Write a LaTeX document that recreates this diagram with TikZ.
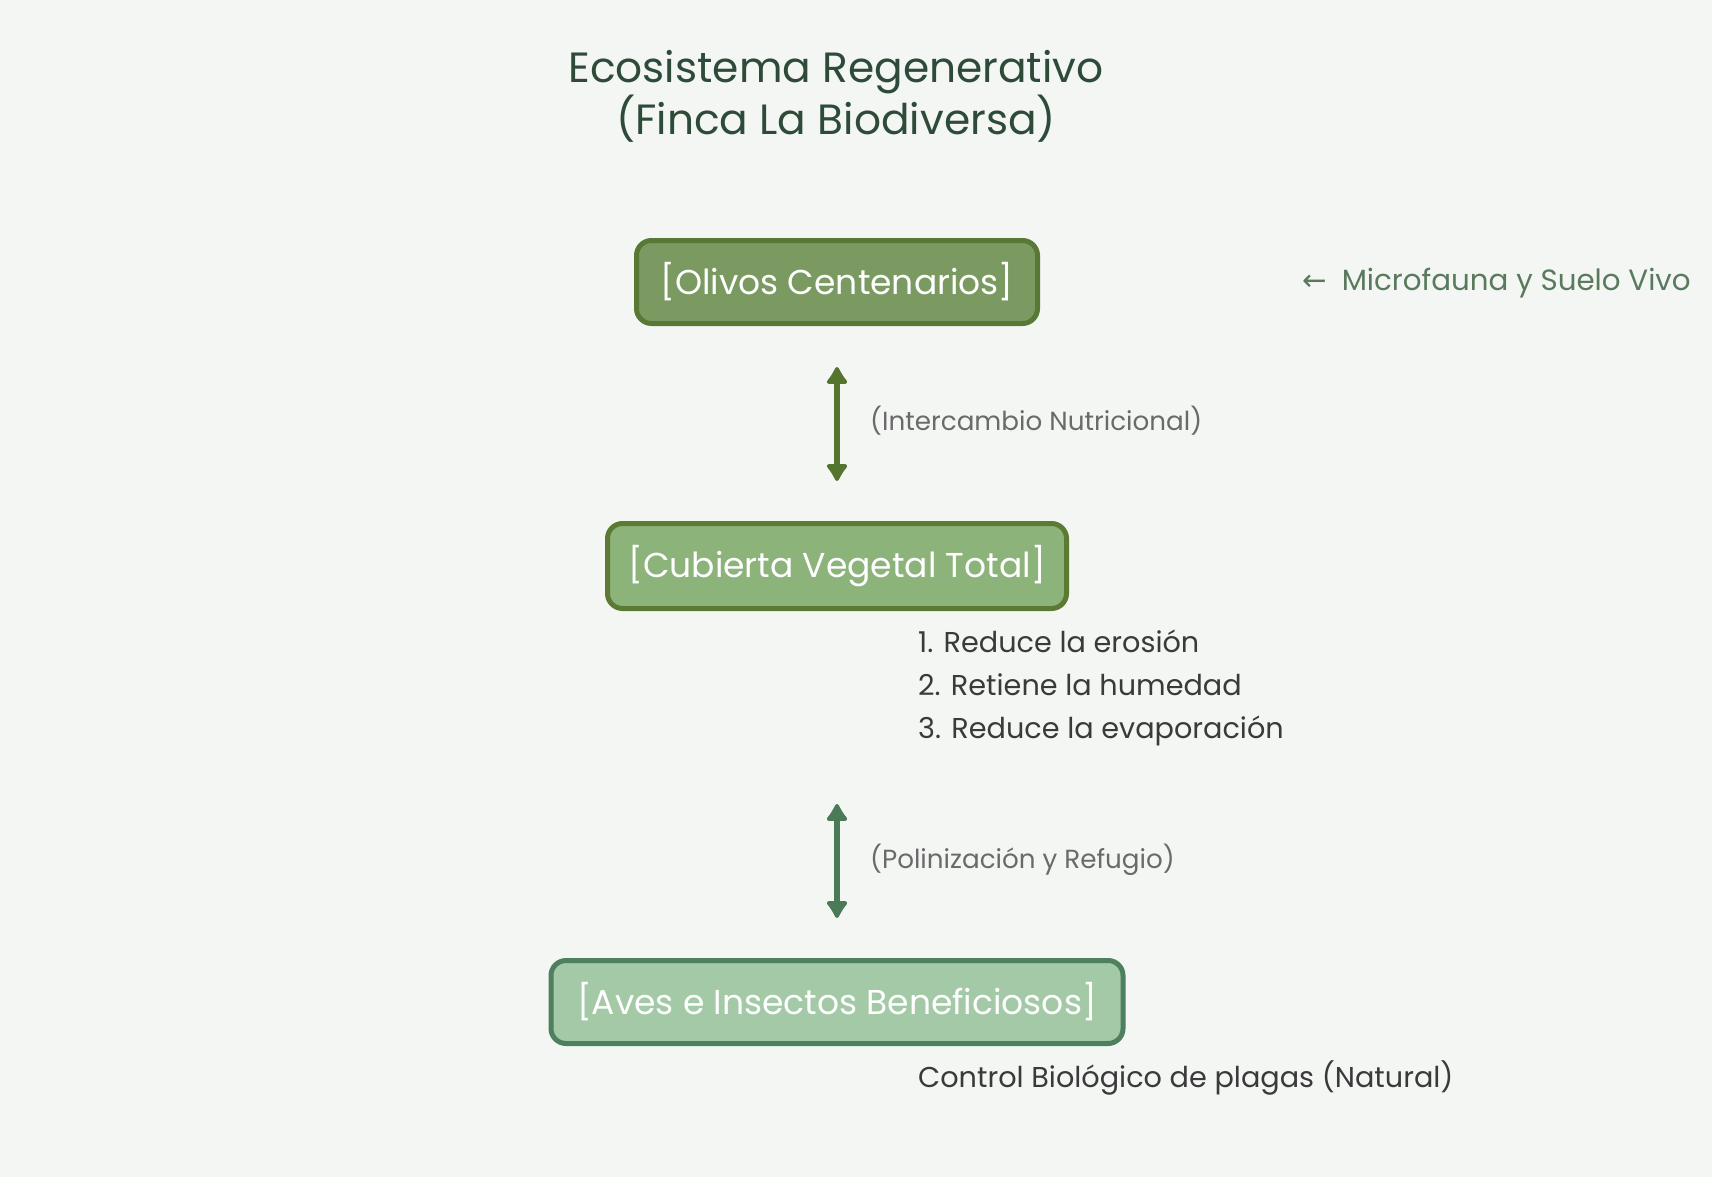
\documentclass[tikz,border=0pt]{standalone}
\usepackage{fontspec}
\setmainfont{Poppins}
\newfontfamily\symfont{DejaVu Sans}
\usetikzlibrary{arrows.meta}
\definecolor{bgc}{HTML}{F3F6F3}
\definecolor{titlec}{HTML}{2E4B3A}
\definecolor{oliveFill}{HTML}{7B9A62}
\definecolor{oliveLine}{HTML}{587836}
\definecolor{coverFill}{HTML}{8CB37A}
\definecolor{coverLine}{HTML}{5B7A34}
\definecolor{birdFill}{HTML}{A3C9A6}
\definecolor{birdLine}{HTML}{4E7F5E}
\definecolor{arrowA}{HTML}{55752F}
\definecolor{arrowB}{HTML}{4A7A58}
\definecolor{labelc}{HTML}{6A6A6A}
\definecolor{listc}{HTML}{3A3A3A}
\definecolor{microc}{HTML}{5A7A5E}
\tikzset{
  box/.style={rounded corners=15pt, line width=5pt, text=white,
    font=\fontsize{34.5}{40}\selectfont, inner sep=0pt},
  tipend/.tip={Latex[round,length=20pt,width=26pt]},
  link/.style={line width=6.5pt, tipend-tipend},
  note/.style={text=labelc, font=\fontsize{26.2}{30}\selectfont, anchor=base west, inner sep=0pt},
  item/.style={text=listc, font=\fontsize{28.7}{34}\selectfont, anchor=base west, inner sep=0pt}
}
\begin{document}
\begin{tikzpicture}[x=1pt,y=-1pt]
  \fill[bgc] (0,0) rectangle (1712,1177);
  \useasboundingbox (0,0) rectangle (1712,1177);

  % heading (anchored on the baseline of its second line)
  \node[text=titlec, font=\fontsize{42.3}{52}\selectfont, align=center, inner sep=0pt, anchor=base]
    (title) at (836,135) {Ecosistema Regenerativo\\(Finca La Biodiversa)};

  % the three layers of the system
  \node[box, fill=oliveFill, draw=oliveLine, minimum width=401pt, minimum height=83pt]
    (olivos) at (837,282) {[Olivos Centenarios]};
  \node[box, fill=coverFill, draw=coverLine, minimum width=459pt, minimum height=85pt]
    (cubierta) at (837,566) {[Cubierta Vegetal Total]};
  \node[box, fill=birdFill, draw=birdLine, minimum width=572pt, minimum height=83pt]
    (aves) at (837,1002) {[Aves e Insectos Beneficiosos]};

  % two-way exchanges between layers
  \coordinate (a1) at (837,367);
  \coordinate (a2) at (837,481);
  \coordinate (b1) at (837,804);
  \coordinate (b2) at (837,918);
  \draw[link, arrowA] (a1) -- (a2);
  \draw[link, arrowB] (b1) -- (b2);
  \node[note] (lab1) at (870,430) {(Intercambio Nutricional)};
  \node[note] (lab2) at (870,868) {(Polinización y Refugio)};

  % benefits of the cover crop
  \node[item] (l1) at (918,652) {1. Reduce la erosión};
  \node[item] (l2) at (918,695) {2. Retiene la humedad};
  \node[item] (l3) at (918,738) {3. Reduce la evaporación};

  \node[item] (ctrl) at (918,1087) {Control Biológico de plagas (Natural)};

  % side note
  \node[text=microc, font=\fontsize{29.3}{34}\selectfont, anchor=base west, inner sep=0pt]
    (micro) at (1302,290) {{\symfont ←}\hspace{15pt}Microfauna y Suelo Vivo};
\end{tikzpicture}
\end{document}
